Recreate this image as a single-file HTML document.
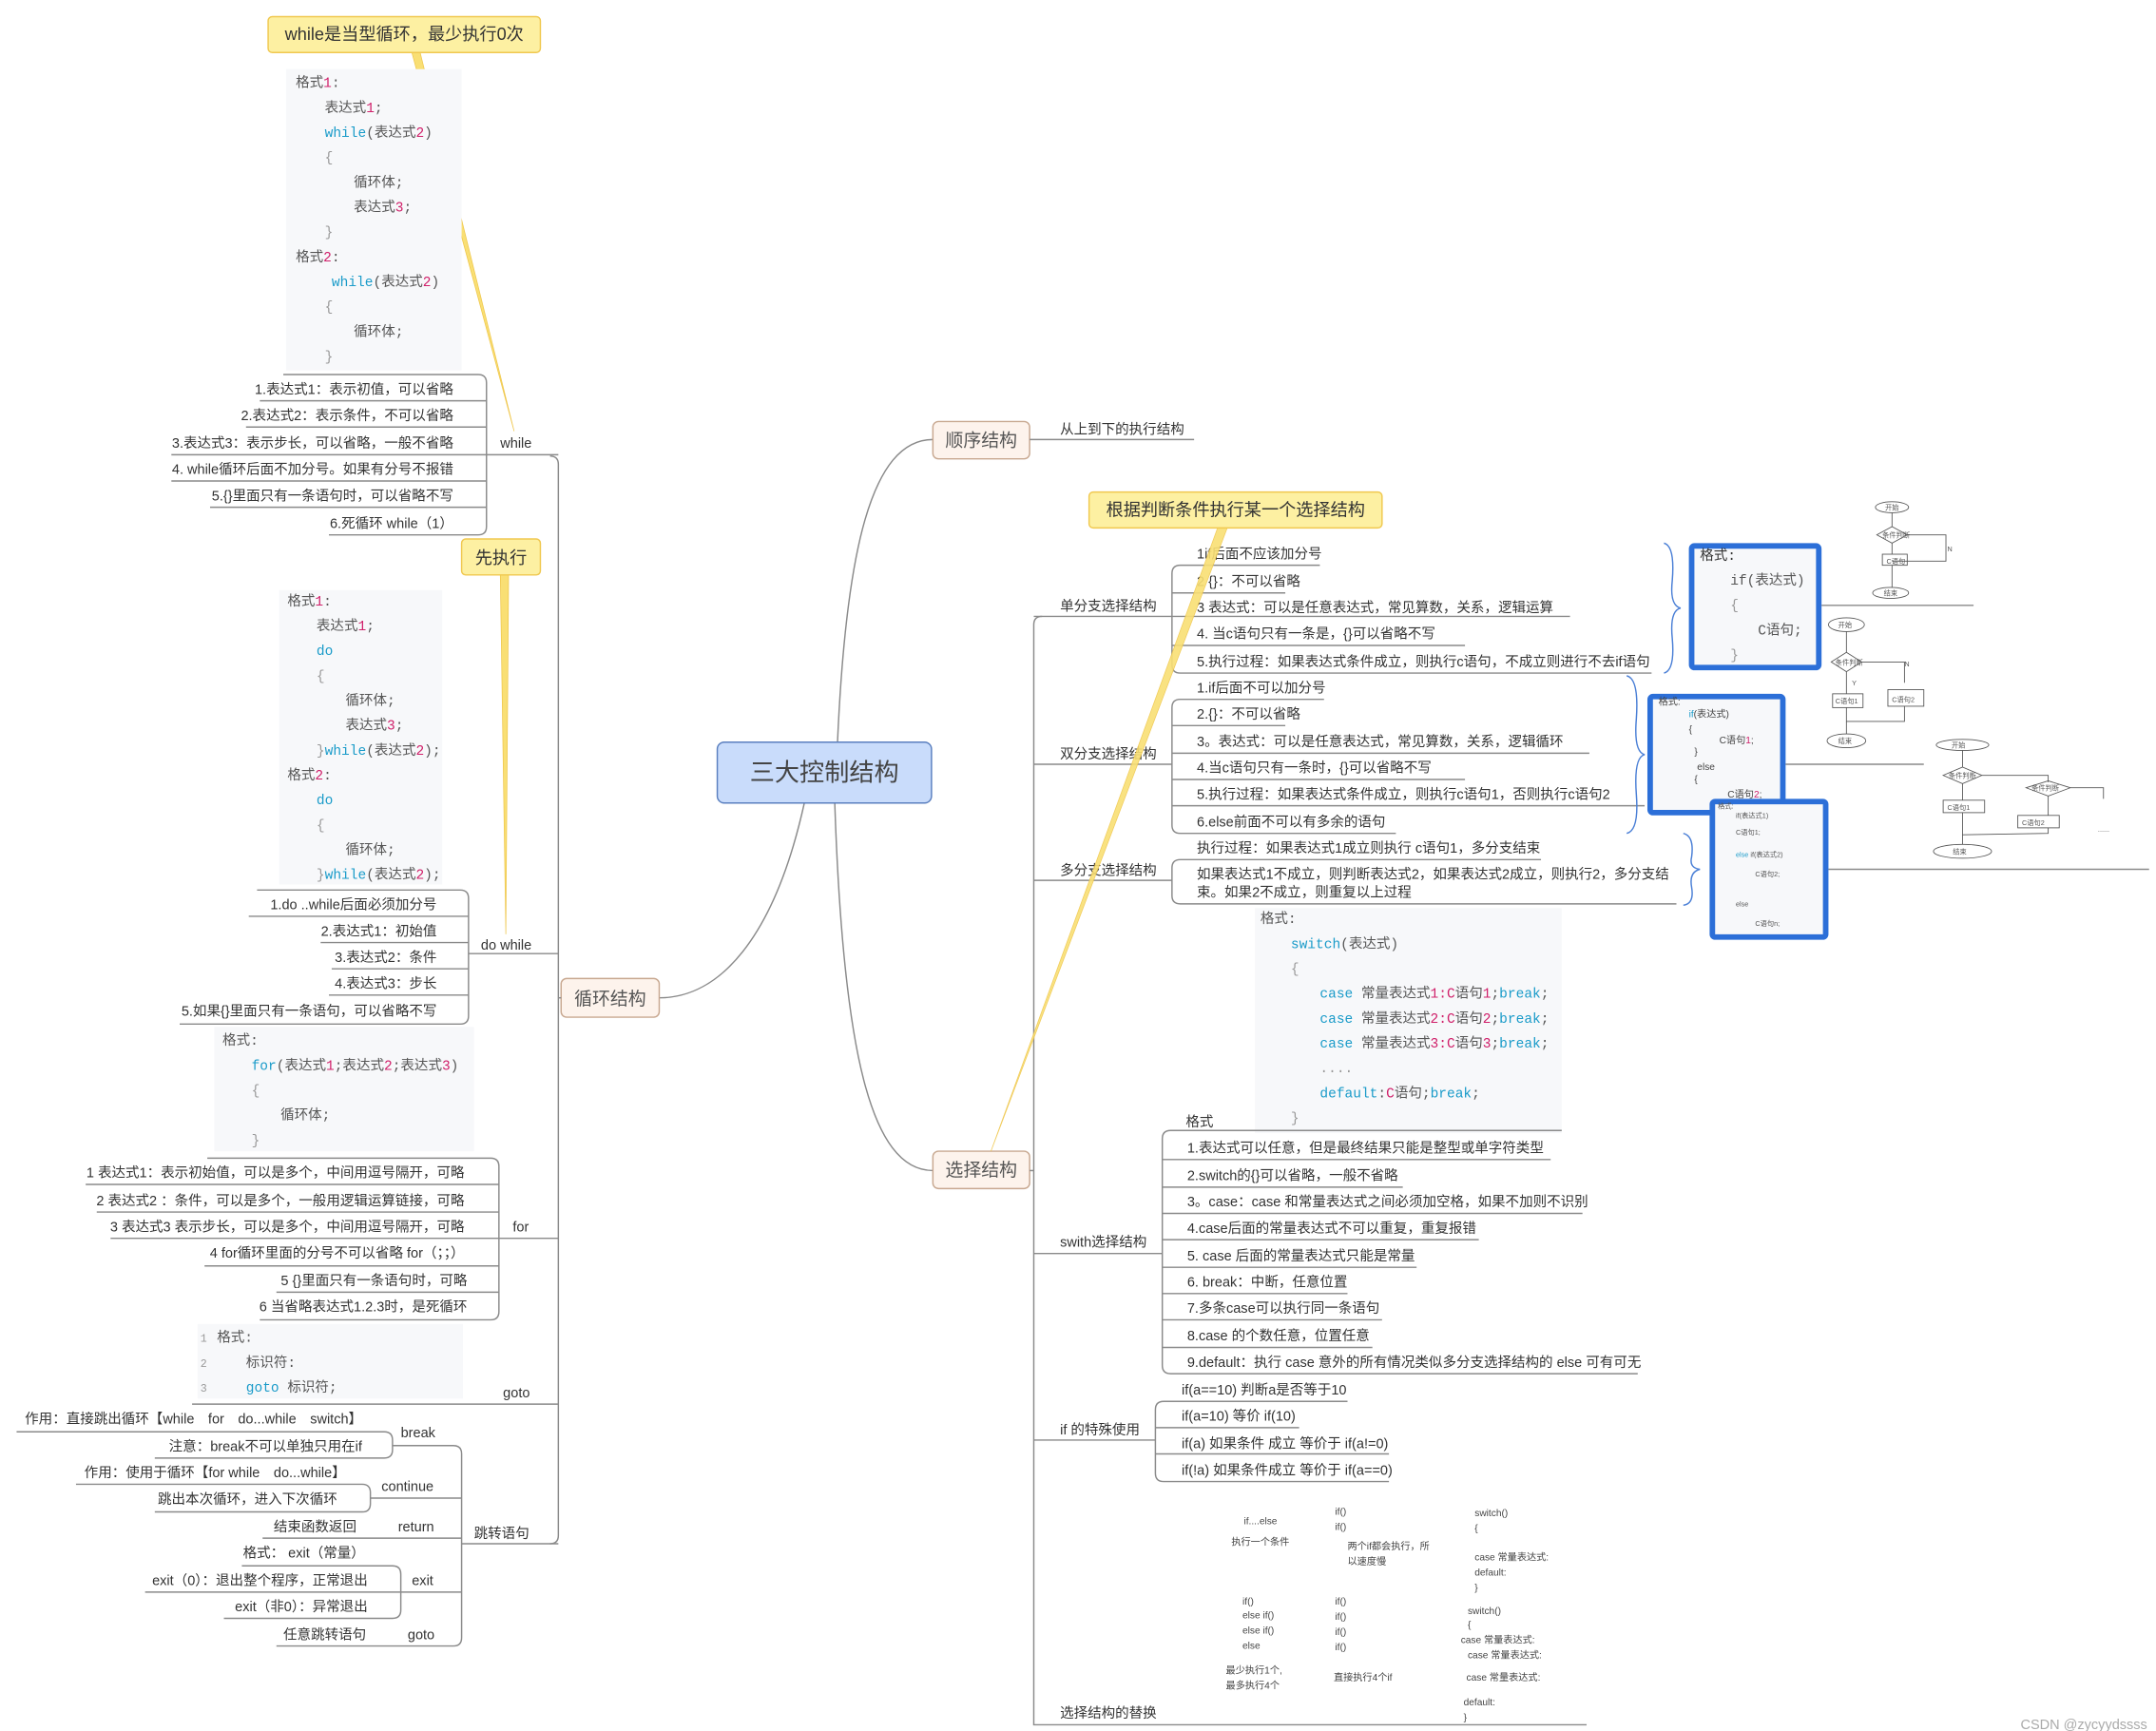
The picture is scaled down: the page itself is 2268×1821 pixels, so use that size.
<!DOCTYPE html>
<html><head><meta charset="utf-8">
<style>
html,body{margin:0;padding:0;background:#fff;width:2268px;height:1821px;overflow:hidden}
svg{display:block}
text{font-family:"Liberation Sans","Noto Sans CJK SC",sans-serif;font-size:10px;fill:#333}
.m{font-family:"Liberation Mono","Noto Sans CJK SC",monospace;font-size:10px;fill:#555}
.k{fill:#1a9bc9}.n{fill:#d0206a}.g{fill:#999}
.r{text-anchor:end}
.ln{stroke:#8a8a8a;stroke-width:1;fill:none}
.sm{font-size:7px;fill:#444}
.xs{font-size:5px;fill:#555}
</style></head><body>
<svg width="2268" height="1821" viewBox="0 0 1560 1252.5" xmlns="http://www.w3.org/2000/svg">
<rect width="1560" height="1253" fill="#fff"/>

<!-- curves from center -->
<path class="ln" d="M606,537 C612,400 630,318 675,318"/>
<path class="ln" d="M604,581 C610,760 630,847 675,847"/>
<path class="ln" d="M582,581 C560,680 520,722 477,722"/>

<!-- center -->
<rect x="519" y="537" width="155" height="44" rx="5" fill="#c9dcfb" stroke="#5a7fbf"/>
<text x="596.5" y="565" text-anchor="middle" style="font-size:18px;fill:#444">三大控制结构</text>

<!-- 顺序 -->
<rect x="675" y="305" width="70" height="27" rx="4" fill="#fdf3ec" stroke="#c8a890"/>
<text x="710" y="323" text-anchor="middle" style="font-size:13px;fill:#555">顺序结构</text>
<line class="ln" x1="745" y1="318" x2="864" y2="318"/>
<text x="767" y="314">从上到下的执行结构</text>

<!-- 选择 box -->
<rect x="675" y="833" width="70" height="27" rx="4" fill="#fdf3ec" stroke="#c8a890"/>
<text x="710" y="851" text-anchor="middle" style="font-size:13px;fill:#555">选择结构</text>
<!-- 循环 box -->
<rect x="406" y="708" width="71" height="28" rx="4" fill="#fdf3ec" stroke="#c8a890"/>
<text x="441.5" y="727" text-anchor="middle" style="font-size:13px;fill:#555">循环结构</text>

<!-- ============ LEFT: loops ============ -->
<path class="ln" d="M398,330 Q404,330 404,336 L404,1111 Q404,1117 398,1117"/>
<line class="ln" x1="404" y1="722" x2="406" y2="722"/>

<!-- while callout line (behind code) -->
<polygon points="298,38 304,38 372,312" fill="#f9df74" stroke="#efc64a" stroke-width="0.5"/>
<!-- while -->
<rect x="207" y="50" width="127" height="218" fill="#f7f8fa"/>
<text class="m" x="214" y="63">格式<tspan class="n">1</tspan>:</text>
<text class="m" x="235" y="81">表达式<tspan class="n">1</tspan>;</text>
<text class="m" x="235" y="99"><tspan class="k">while</tspan>(表达式<tspan class="n">2</tspan>)</text>
<text class="m g" x="235" y="117">{</text>
<text class="m" x="256" y="135">循环体;</text>
<text class="m" x="256" y="153">表达式<tspan class="n">3</tspan>;</text>
<text class="m g" x="235" y="171">}</text>
<text class="m" x="214" y="189">格式<tspan class="n">2</tspan>:</text>
<text class="m" x="240" y="207"><tspan class="k">while</tspan>(表达式<tspan class="n">2</tspan>)</text>
<text class="m g" x="235" y="225">{</text>
<text class="m" x="256" y="243">循环体;</text>
<text class="m g" x="235" y="261">}</text>
<path class="ln" d="M205,271 L346,271 Q352,271 352,277 L352,381 Q352,387 346,387 L238,387"/>
<line class="ln" x1="188" y1="290" x2="352" y2="290"/>
<line class="ln" x1="178" y1="309" x2="352" y2="309"/>
<line class="ln" x1="124" y1="329" x2="404" y2="329"/>
<line class="ln" x1="124" y1="348" x2="352" y2="348"/>
<line class="ln" x1="152" y1="367" x2="352" y2="367"/>
<text class="r" x="328" y="285">1.表达式1：表示初值，可以省略</text>
<text class="r" x="328" y="304">2.表达式2：表示条件，不可以省略</text>
<text class="r" x="328" y="324">3.表达式3：表示步长，可以省略，一般不省略</text>
<text class="r" x="328" y="343">4. while循环后面不加分号。如果有分号不报错</text>
<text class="r" x="328" y="362">5.{}里面只有一条语句时，可以省略不写</text>
<text class="r" x="328" y="382">6.死循环 while（1）</text>
<text x="362" y="324">while</text>
<rect x="194" y="12" width="197" height="26" rx="3" fill="#fdf0a2" stroke="#f0c850"/>
<text x="292.5" y="29" text-anchor="middle" style="font-size:12.5px;fill:#333">while是当型循环，最少执行0次</text>

<!-- do while -->
<rect x="202" y="427" width="118" height="213" fill="#f7f8fa"/>
<text class="m" x="208" y="438">格式<tspan class="n">1</tspan>:</text>
<text class="m" x="229" y="456">表达式<tspan class="n">1</tspan>;</text>
<text class="m k" x="229" y="474">do</text>
<text class="m g" x="229" y="492">{</text>
<text class="m" x="250" y="510">循环体;</text>
<text class="m" x="250" y="528">表达式<tspan class="n">3</tspan>;</text>
<text class="m" x="229" y="546"><tspan class="g">}</tspan><tspan class="k">while</tspan>(表达式<tspan class="n">2</tspan>);</text>
<text class="m" x="208" y="564">格式<tspan class="n">2</tspan>:</text>
<text class="m k" x="229" y="582">do</text>
<text class="m g" x="229" y="600">{</text>
<text class="m" x="250" y="618">循环体;</text>
<text class="m" x="229" y="636"><tspan class="g">}</tspan><tspan class="k">while</tspan>(表达式<tspan class="n">2</tspan>);</text>
<path class="ln" d="M186,644 L333,644 Q339,644 339,650 L339,735 Q339,741 333,741 L130,741"/>
<line class="ln" x1="180" y1="663" x2="339" y2="663"/>
<line class="ln" x1="232" y1="682" x2="339" y2="682"/>
<line class="ln" x1="240" y1="701" x2="339" y2="701"/>
<line class="ln" x1="238" y1="720" x2="339" y2="720"/>
<line class="ln" x1="339" y1="690" x2="404" y2="690"/>
<text class="r" x="316" y="658">1.do ..while后面必须加分号</text>
<text class="r" x="316" y="677">2.表达式1：初始值</text>
<text class="r" x="316" y="696">3.表达式2：条件</text>
<text class="r" x="316" y="715">4.表达式3：步长</text>
<text class="r" x="316" y="735">5.如果{}里面只有一条语句，可以省略不写</text>
<text x="348" y="687">do while</text>
<polygon points="362,416 368,416 366,676" fill="#f9df74" stroke="#efc64a" stroke-width="0.5"/>
<rect x="334" y="390" width="57" height="26" rx="3" fill="#fdf0a2" stroke="#f0c850"/>
<text x="362.5" y="408" text-anchor="middle" style="font-size:12.5px;fill:#333">先执行</text>

<!-- for -->
<rect x="155" y="743" width="188" height="90" fill="#f7f8fa"/>
<text class="m" x="161" y="756">格式:</text>
<text class="m" x="182" y="774"><tspan class="k">for</tspan>(表达式<tspan class="n">1</tspan>;表达式<tspan class="n">2</tspan>;表达式<tspan class="n">3</tspan>)</text>
<text class="m g" x="182" y="792">{</text>
<text class="m" x="203" y="810">循环体;</text>
<text class="m g" x="182" y="828">}</text>
<path class="ln" d="M150,838 L355,838 Q361,838 361,844 L361,949 Q361,955 355,955 L188,955"/>
<line class="ln" x1="62" y1="857" x2="361" y2="857"/>
<line class="ln" x1="70" y1="877" x2="361" y2="877"/>
<line class="ln" x1="80" y1="896" x2="404" y2="896"/>
<line class="ln" x1="148" y1="916" x2="361" y2="916"/>
<line class="ln" x1="200" y1="935" x2="361" y2="935"/>
<text class="r" x="336" y="852">1 表达式1：表示初始值，可以是多个，中间用逗号隔开，可略</text>
<text class="r" x="336" y="872">2 表达式2 ：条件，可以是多个，一般用逻辑运算链接，可略</text>
<text class="r" x="336" y="891">3 表达式3 表示步长，可以是多个，中间用逗号隔开，可略</text>
<text class="r" x="336" y="910">4 for循环里面的分号不可以省略 for（；；）</text>
<text class="r" x="338" y="930">5 {}里面只有一条语句时，可略</text>
<text class="r" x="338" y="949">6 当省略表达式1.2.3时，是死循环</text>
<text x="371" y="891">for</text>

<!-- goto -->
<rect x="143" y="958" width="192" height="54" fill="#f7f8fa"/>
<text class="m g" x="145" y="971" style="font-size:8px">1</text>
<text class="m g" x="145" y="989" style="font-size:8px">2</text>
<text class="m g" x="145" y="1007" style="font-size:8px">3</text>
<text class="m" x="157" y="971">格式:</text>
<text class="m" x="178" y="989">标识符:</text>
<text class="m" x="178" y="1007"><tspan class="k">goto</tspan> 标识符;</text>
<line class="ln" x1="139" y1="1016" x2="404" y2="1016"/>
<text x="364" y="1011">goto</text>

<!-- jump -->
<path class="ln" d="M284,1046 L328,1046 Q334,1046 334,1052 L334,1185 Q334,1191 328,1191 L200,1191"/>
<line class="ln" x1="334" y1="1117" x2="404" y2="1117"/>
<text x="343" y="1113">跳转语句</text>
<path class="ln" d="M12,1036 L278,1036 Q284,1036 284,1042 L284,1049 Q284,1055 278,1055 L112,1055"/>
<text x="18" y="1030">作用：直接跳出循环【while　for　do...while　switch】</text>
<text class="r" x="262" y="1050">注意：break不可以单独只用在if</text>
<text x="290" y="1040">break</text>
<path class="ln" d="M55,1074 L262,1074 Q268,1074 268,1080 L268,1088 Q268,1094 262,1094 L112,1094"/>
<line class="ln" x1="268" y1="1084" x2="334" y2="1084"/>
<text x="61" y="1069">作用：使用于循环【for  while　do...while】</text>
<text class="r" x="244" y="1088">跳出本次循环，进入下次循环</text>
<text x="276" y="1079">continue</text>
<line class="ln" x1="190" y1="1113" x2="334" y2="1113"/>
<text x="198" y="1108">结束函数返回</text>
<text x="288" y="1108">return</text>
<path class="ln" d="M175,1133 L284,1133 Q290,1133 290,1139 L290,1165 Q290,1171 284,1171 L162,1171"/>
<line class="ln" x1="105" y1="1152" x2="334" y2="1152"/>
<text class="r" x="264" y="1127">格式： exit（常量）</text>
<text class="r" x="266" y="1147">exit（0）：退出整个程序，正常退出</text>
<text class="r" x="266" y="1166">exit（非0）：异常退出</text>
<text x="298" y="1147">exit</text>
<text x="205" y="1186">任意跳转语句</text>
<text x="295" y="1186">goto</text>

<!-- ============ RIGHT: selection ============ -->
<path class="ln" d="M754,446 Q748,446 748,452 L748,1248 L1148,1248"/>
<line class="ln" x1="745" y1="847" x2="748" y2="847"/>

<line class="ln" x1="748" y1="446" x2="848" y2="446"/>
<text x="767" y="442">单分支选择结构</text>
<path class="ln" d="M955,409 L854,409 Q848,409 848,415 L848,481 Q848,487 854,487 L1195,487"/>
<line class="ln" x1="848" y1="429" x2="930" y2="429"/>
<line class="ln" x1="848" y1="446" x2="1136" y2="446"/>
<line class="ln" x1="848" y1="467" x2="1060" y2="467"/>
<text x="866" y="404">1if后面不应该加分号</text>
<text x="866" y="424">2 {}：不可以省略</text>
<text x="866" y="443">3 表达式：可以是任意表达式，常见算数，关系，逻辑运算</text>
<text x="866" y="462">4. 当c语句只有一条是，{}可以省略不写</text>
<text x="866" y="482">5.执行过程：如果表达式条件成立，则执行c语句，不成立则进行不去if语句</text>

<line class="ln" x1="748" y1="553" x2="848" y2="553"/>
<text x="767" y="549">双分支选择结构</text>
<path class="ln" d="M958,506 L854,506 Q848,506 848,512 L848,597 Q848,603 854,603 L1010,603"/>
<line class="ln" x1="848" y1="525" x2="930" y2="525"/>
<line class="ln" x1="848" y1="545" x2="1150" y2="545"/>
<line class="ln" x1="848" y1="564" x2="1060" y2="564"/>
<line class="ln" x1="848" y1="583" x2="1190" y2="583"/>
<text x="866" y="501">1.if后面不可以加分号</text>
<text x="866" y="520">2.{}：不可以省略</text>
<text x="866" y="540">3。表达式：可以是任意表达式，常见算数，关系，逻辑循环</text>
<text x="866" y="559">4.当c语句只有一条时，{}可以省略不写</text>
<text x="866" y="578">5.执行过程：如果表达式条件成立，则执行c语句1，否则执行c语句2</text>
<text x="866" y="598">6.else前面不可以有多余的语句</text>

<line class="ln" x1="748" y1="637" x2="848" y2="637"/>
<text x="767" y="633">多分支选择结构</text>
<path class="ln" d="M1115,622 L854,622 Q848,622 848,628 L848,648 Q848,654 854,654 L1213,654"/>
<text x="866" y="617">执行过程：如果表达式1成立则执行 c语句1，多分支结束</text>
<text x="866" y="636">如果表达式1不成立，则判断表达式2，如果表达式2成立，则执行2，多分支结</text>
<text x="866" y="649">束。如果2不成立，则重复以上过程</text>

<path d="M1204,393 Q1212,395 1210,420 Q1208,438 1216,440 Q1208,442 1210,462 Q1212,485 1204,487" fill="none" stroke="#4a7fd6" stroke-width="1"/>
<path d="M1177,489 Q1186,491 1184,520 Q1182,544 1190,546 Q1182,548 1184,575 Q1186,601 1177,603" fill="none" stroke="#4a7fd6" stroke-width="1"/>
<path d="M1218,603 Q1226,605 1224,620 Q1222,628 1230,629 Q1222,631 1224,642 Q1226,654 1218,655" fill="none" stroke="#4a7fd6" stroke-width="1"/>

<rect x="1224" y="395" width="92" height="88" rx="2" fill="#f7f8fa" stroke="#2c6fd8" stroke-width="4"/>
<text class="m" x="1230" y="405" style="fill:#333">格式:</text>
<text class="m" x="1252" y="423">if(表达式)</text>
<text class="m g" x="1252" y="441">{</text>
<text class="m" x="1272" y="459">C语句;</text>
<text class="m g" x="1252" y="477">}</text>
<line class="ln" x1="1318" y1="438" x2="1428" y2="438"/>
<g stroke="#555" stroke-width="0.6" fill="none">
<ellipse cx="1369" cy="367" rx="12" ry="4"/>
<line x1="1369" y1="371" x2="1369" y2="381"/>
<polygon points="1358,387 1369,381 1380,387 1369,393"/>
<polyline points="1380,387 1408,387 1408,406 1369,406"/>
<line x1="1369" y1="393" x2="1369" y2="401"/>
<rect x="1362" y="401" width="18" height="8"/>
<line x1="1369" y1="409" x2="1369" y2="425"/>
<ellipse cx="1368" cy="429" rx="13" ry="4"/>
</g>
<text class="xs" x="1364" y="369">开始</text><text class="xs" x="1362" y="389">条件判断</text><text class="xs" x="1365" y="408">C语句</text><text class="xs" x="1363" y="431">结束</text><text class="xs" x="1409" y="399">N</text>

<rect x="1194" y="504" width="96" height="84" rx="2" fill="#f7f8fa" stroke="#2c6fd8" stroke-width="4"/>
<text class="sm" x="1200" y="510">格式:</text>
<text class="sm" x="1222" y="519"><tspan class="k">if</tspan>(表达式)</text>
<text class="sm g" x="1222" y="530">{</text>
<text class="sm" x="1244" y="538">C语句<tspan class="n">1</tspan>;</text>
<text class="sm g" x="1226" y="546">}</text>
<text class="sm k" x="1228" y="557">else</text>
<text class="sm g" x="1226" y="566">{</text>
<text class="sm" x="1250" y="577">C语句<tspan class="n">2</tspan>;</text>
<line class="ln" x1="1292" y1="553" x2="1392" y2="553"/>
<g stroke="#555" stroke-width="0.6" fill="none">
<ellipse cx="1336" cy="452" rx="13" ry="5"/>
<line x1="1336" y1="457" x2="1336" y2="472"/>
<polygon points="1325,479 1336,472 1347,479 1336,486"/>
<polyline points="1347,479 1378,479 1378,494"/>
<line x1="1336" y1="486" x2="1336" y2="502"/>
<rect x="1326" y="502" width="22" height="10"/>
<rect x="1366" y="499" width="26" height="12"/>
<polyline points="1336,512 1336,522 1378,522 1378,511"/>
<line x1="1336" y1="522" x2="1336" y2="531"/>
<ellipse cx="1336" cy="536" rx="14" ry="5"/>
</g>
<text class="xs" x="1330" y="454">开始</text><text class="xs" x="1328" y="481">条件判断</text><text class="xs" x="1328" y="509">C语句1</text><text class="xs" x="1369" y="508">C语句2</text><text class="xs" x="1330" y="538">结束</text><text class="xs" x="1378" y="482">N</text><text class="xs" x="1340" y="496">Y</text>

<rect x="1239" y="580" width="82" height="98" rx="2" fill="#f7f8fa" stroke="#2c6fd8" stroke-width="4"/>
<text class="xs" x="1243" y="585">格式:</text>
<text class="xs" x="1256" y="592">if(表达式1)</text>
<text class="xs" x="1256" y="604">C语句1;</text>
<text class="xs" x="1256" y="620"><tspan class="k">else</tspan> if(表达式2)</text>
<text class="xs" x="1270" y="634">C语句2;</text>
<text class="xs k" x="1256" y="656">else</text>
<text class="xs" x="1270" y="670">C语句n;</text>
<line class="ln" x1="1323" y1="629" x2="1555" y2="629"/>
<g stroke="#555" stroke-width="0.6" fill="none">
<ellipse cx="1420" cy="539" rx="19" ry="4"/>
<line x1="1420" y1="543" x2="1420" y2="555"/>
<polygon points="1406,561 1420,555 1434,561 1420,567"/>
<polyline points="1434,561 1482,561 1482,566"/>
<polygon points="1466,570 1482,565 1498,570 1482,576"/>
<polyline points="1498,570 1522,570 1522,578"/>
<line x1="1420" y1="567" x2="1420" y2="579"/>
<rect x="1406" y="579" width="30" height="9"/>
<line x1="1482" y1="576" x2="1482" y2="590"/>
<rect x="1460" y="590" width="30" height="9"/>
<polyline points="1420,588 1420,604 1482,603 1482,599"/>
<line x1="1420" y1="604" x2="1420" y2="611"/>
<ellipse cx="1420" cy="616" rx="21" ry="5"/>
</g>
<text class="xs" x="1412" y="541">开始</text><text class="xs" x="1410" y="563">条件判断</text><text class="xs" x="1470" y="572">条件判断</text><text class="xs" x="1409" y="586">C语句1</text><text class="xs" x="1463" y="597">C语句2</text><text class="xs" x="1413" y="618">结束</text><text class="xs" x="1518" y="602">......</text>

<rect x="908" y="657" width="222" height="163" fill="#f7f8fa"/>
<text class="m" x="912" y="668">格式:</text>
<text class="m" x="934" y="686"><tspan class="k">switch</tspan>(表达式)</text>
<text class="m g" x="934" y="704">{</text>
<text class="m" x="955" y="722"><tspan class="k">case</tspan> 常量表达式<tspan class="n">1:C</tspan>语句<tspan class="n">1</tspan>;<tspan class="k">break</tspan>;</text>
<text class="m" x="955" y="740"><tspan class="k">case</tspan> 常量表达式<tspan class="n">2:C</tspan>语句<tspan class="n">2</tspan>;<tspan class="k">break</tspan>;</text>
<text class="m" x="955" y="758"><tspan class="k">case</tspan> 常量表达式<tspan class="n">3:C</tspan>语句<tspan class="n">3</tspan>;<tspan class="k">break</tspan>;</text>
<text class="m g" x="955" y="776">....</text>
<text class="m" x="955" y="794"><tspan class="k">default</tspan>:<tspan class="n">C</tspan>语句;<tspan class="k">break</tspan>;</text>
<text class="m g" x="934" y="812">}</text>
<text x="858" y="815">格式</text>
<line class="ln" x1="748" y1="907" x2="841" y2="907"/>
<text x="767" y="902">swith选择结构</text>
<path class="ln" d="M1130,818 L847,818 Q841,818 841,824 L841,988 Q841,994 847,994 L1185,994"/>
<line class="ln" x1="841" y1="839" x2="1122" y2="839"/>
<line class="ln" x1="841" y1="859" x2="1015" y2="859"/>
<line class="ln" x1="841" y1="878" x2="1145" y2="878"/>
<line class="ln" x1="841" y1="897" x2="1070" y2="897"/>
<line class="ln" x1="841" y1="917" x2="1025" y2="917"/>
<line class="ln" x1="841" y1="936" x2="975" y2="936"/>
<line class="ln" x1="841" y1="955" x2="1000" y2="955"/>
<line class="ln" x1="841" y1="975" x2="993" y2="975"/>
<text x="859" y="834">1.表达式可以任意，但是最终结果只能是整型或单字符类型</text>
<text x="859" y="854">2.switch的{}可以省略，一般不省略</text>
<text x="859" y="873">3。case：case 和常量表达式之间必须加空格，如果不加则不识别</text>
<text x="859" y="892">4.case后面的常量表达式不可以重复，重复报错</text>
<text x="859" y="912">5. case 后面的常量表达式只能是常量</text>
<text x="859" y="931">6. break：中断，任意位置</text>
<text x="859" y="950">7.多条case可以执行同一条语句</text>
<text x="859" y="970">8.case 的个数任意，位置任意</text>
<text x="859" y="989">9.default：执行 case 意外的所有情况类似多分支选择结构的 else 可有可无</text>

<line class="ln" x1="748" y1="1042" x2="836" y2="1042"/>
<text x="767" y="1038">if 的特殊使用</text>
<path class="ln" d="M975,1014 L842,1014 Q836,1014 836,1020 L836,1066 Q836,1072 842,1072 L1005,1072"/>
<line class="ln" x1="836" y1="1033" x2="940" y2="1033"/>
<line class="ln" x1="836" y1="1052" x2="1005" y2="1052"/>
<text x="855" y="1009">if(a==10) 判断a是否等于10</text>
<text x="855" y="1028">if(a=10) 等价 if(10)</text>
<text x="855" y="1048">if(a) 如果条件 成立 等价于  if(a!=0)</text>
<text x="855" y="1067">if(!a) 如果条件成立  等价于 if(a==0)</text>

<text x="767" y="1243">选择结构的替换</text>
<g>
<text class="sm" x="900" y="1103">if....else</text>
<text class="sm" x="891" y="1118">执行一个条件</text>
<text class="sm" x="966" y="1096">if()</text>
<text class="sm" x="966" y="1107">if()</text>
<text class="sm" x="975" y="1121">两个if都会执行，所</text>
<text class="sm" x="975" y="1132">以速度慢</text>
<text class="sm" x="1067" y="1097">switch()</text>
<text class="sm" x="1067" y="1108">{</text>
<text class="sm" x="1067" y="1129">case  常量表达式:</text>
<text class="sm" x="1067" y="1140">default:</text>
<text class="sm" x="1067" y="1151">}</text>
<text class="sm" x="899" y="1161">if()</text>
<text class="sm" x="899" y="1171">else if()</text>
<text class="sm" x="899" y="1182">else if()</text>
<text class="sm" x="899" y="1193">else</text>
<text class="sm" x="887" y="1211">最少执行1个,</text>
<text class="sm" x="887" y="1222">最多执行4个</text>
<text class="sm" x="966" y="1161">if()</text>
<text class="sm" x="966" y="1172">if()</text>
<text class="sm" x="966" y="1183">if()</text>
<text class="sm" x="966" y="1194">if()</text>
<text class="sm" x="965" y="1216">直接执行4个if</text>
<text class="sm" x="1062" y="1168">switch()</text>
<text class="sm" x="1062" y="1178">{</text>
<text class="sm" x="1057" y="1189">case  常量表达式:</text>
<text class="sm" x="1062" y="1200">case  常量表达式:</text>
<text class="sm" x="1061" y="1216">case  常量表达式:</text>
<text class="sm" x="1059" y="1234">default:</text>
<text class="sm" x="1059" y="1245">}</text>
</g>

<polygon points="881,382 888,382 717,833" fill="#f9df74" stroke="#efc64a" stroke-width="0.5" opacity="0.9"/>
<rect x="788" y="356" width="212" height="26" rx="3" fill="#fdf0a2" stroke="#f0c850"/>
<text x="894" y="373" text-anchor="middle" style="font-size:12.5px;fill:#333">根据判断条件执行某一个选择结构</text>

<text x="1462" y="1251" style="font-size:10px;fill:#aaa">CSDN @zycyydssss</text>
</svg>
</body></html>
